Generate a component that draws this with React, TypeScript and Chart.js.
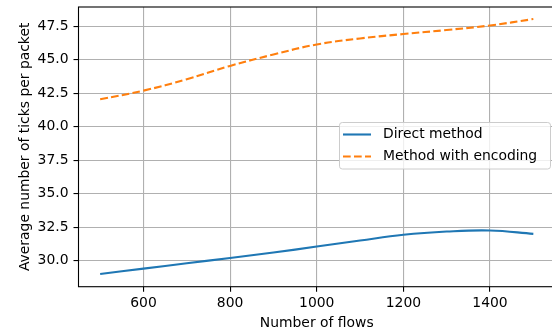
import React, { useEffect, useRef } from "react";
import { Chart, registerables } from "chart.js";

Chart.register(...registerables);

const flows = [500, 600, 700, 800, 900, 1000, 1100, 1200, 1300, 1400, 1500];
const directMethod = [29.0, 29.4, 29.8, 30.2, 30.6, 31.05, 31.5, 31.93, 32.17, 32.25, 32.0];
const encodingMethod = [42.05, 42.7, 43.55, 44.55, 45.4, 46.15, 46.6, 46.93, 47.23, 47.57, 48.05];
const xTicks = [600, 800, 1000, 1200, 1400];
const yTicks = [30.0, 32.5, 35.0, 37.5, 40.0, 42.5, 45.0, 47.5];
const seriesLabels = ["Direct method", "Method with encoding"];
const xTitle = "Number of flows";
const yTitle = "Average number of ticks per packet";

const FONT = "DejaVu Sans";
const FS = 13.9;

const framePlugin = {
  id: "frameAndLegend",
  afterDraw(chart: any) {
    const ctx = chart.ctx;
    const a = chart.chartArea;
    ctx.save();
    ctx.strokeStyle = "#000";
    ctx.lineWidth = 1.1;
    ctx.strokeRect(a.left, a.top, a.right - a.left, a.bottom - a.top);

    // legend
    const bx = 339.5, by = 122.5, bw = 211, bh = 46.5, r = 2.8;
    ctx.beginPath();
    ctx.moveTo(bx + r, by);
    ctx.lineTo(bx + bw - r, by);
    ctx.quadraticCurveTo(bx + bw, by, bx + bw, by + r);
    ctx.lineTo(bx + bw, by + bh - r);
    ctx.quadraticCurveTo(bx + bw, by + bh, bx + bw - r, by + bh);
    ctx.lineTo(bx + r, by + bh);
    ctx.quadraticCurveTo(bx, by + bh, bx, by + bh - r);
    ctx.lineTo(bx, by + r);
    ctx.quadraticCurveTo(bx, by, bx + r, by);
    ctx.closePath();
    ctx.fillStyle = "rgba(255,255,255,0.8)";
    ctx.fill();
    ctx.strokeStyle = "#cccccc";
    ctx.lineWidth = 1;
    ctx.stroke();

    const rows = [134.5, 156.5];
    chart.data.datasets.forEach((ds: any, i: number) => {
      const y = rows[i];
      ctx.beginPath();
      ctx.strokeStyle = ds.borderColor;
      ctx.lineWidth = ds.borderWidth;
      ctx.setLineDash(ds.borderDash || []);
      ctx.moveTo(343, y);
      ctx.lineTo(371, y);
      ctx.stroke();
      ctx.setLineDash([]);
      ctx.fillStyle = "#000";
      ctx.font = `${FS}px "${FONT}"`;
      ctx.textBaseline = "middle";
      ctx.textAlign = "left";
      ctx.fillText(ds.label, 383, y);
    });
    ctx.restore();
  },
};

export default function App() {
  const ref = useRef<HTMLCanvasElement>(null);
  useEffect(() => {
    if (!ref.current) return;
    Chart.defaults.color = "#000";
    Chart.defaults.font.family = FONT;
    Chart.defaults.font.size = FS;
    const chart = new Chart(ref.current, {
      type: "line",
      data: {
        datasets: [
          {
            label: seriesLabels[0],
            data: flows.map((x, i) => ({ x, y: directMethod[i] })),
            borderColor: "#1f77b4",
            borderWidth: 2.1,
            pointRadius: 0,
            tension: 0.4,
            fill: false,
          },
          {
            label: seriesLabels[1],
            data: flows.map((x, i) => ({ x, y: encodingMethod[i] })),
            borderColor: "#ff7f0e",
            borderWidth: 2.1,
            borderDash: [7.7, 3.3],
            pointRadius: 0,
            tension: 0.4,
            fill: false,
          },
        ],
      },
      options: {
        animation: false,
        responsive: false,
        devicePixelRatio: 1,
        layout: { padding: { left: 0, top: 7, right: 5, bottom: 0 } },
        plugins: { legend: { display: false }, tooltip: { enabled: false } },
        scales: {
          x: {
            type: "linear",
            min: 450,
            max: 1550,
            afterBuildTicks: (s: any) => {
              s.ticks = xTicks.map((v) => ({ value: v }));
            },
            afterFit: (s: any) => {
              s.height = 53.3;
              s.paddingLeft = 0;
              s.paddingRight = 0;
            },
            ticks: {
              padding: 3,
              maxRotation: 0,
              autoSkip: false,
              callback: (v: any) => String(v),
            },
            grid: {
              color: "#b0b0b0",
              lineWidth: 1.1,
              tickColor: "#000",
              tickLength: 5,
              tickWidth: 1.1,
            },
            border: { display: false },
            title: {
              display: true,
              text: xTitle,
              padding: { top: 0, bottom: 8.7 },
              font: { size: FS, family: FONT },
            },
          },
          y: {
            type: "linear",
            min: 28.05,
            max: 48.95,
            afterBuildTicks: (s: any) => {
              s.ticks = yTicks.map((v) => ({ value: v }));
            },
            afterFit: (s: any) => {
              s.width = 78.5;
              s.paddingTop = 0;
              s.paddingBottom = 0;
            },
            ticks: {
              padding: 5,
              autoSkip: false,
              callback: (v: any) => Number(v).toFixed(1),
            },
            grid: {
              color: "#b0b0b0",
              lineWidth: 1.1,
              tickColor: "#000",
              tickLength: 5,
              tickWidth: 1.1,
            },
            border: { display: false },
            title: {
              display: true,
              text: yTitle,
              padding: { top: 16.7, bottom: 0 },
              font: { size: FS, family: FONT },
            },
          },
        },
      },
      plugins: [framePlugin],
    });
    return () => chart.destroy();
  }, []);
  return (
    <div
      style={{
        position: "fixed",
        left: 0,
        top: 0,
        width: 552,
        height: 328,
        overflow: "hidden",
        background: "#fff",
      }}
    >
      <canvas ref={ref} width={560} height={340} style={{ display: "block" }} />
    </div>
  );
}
